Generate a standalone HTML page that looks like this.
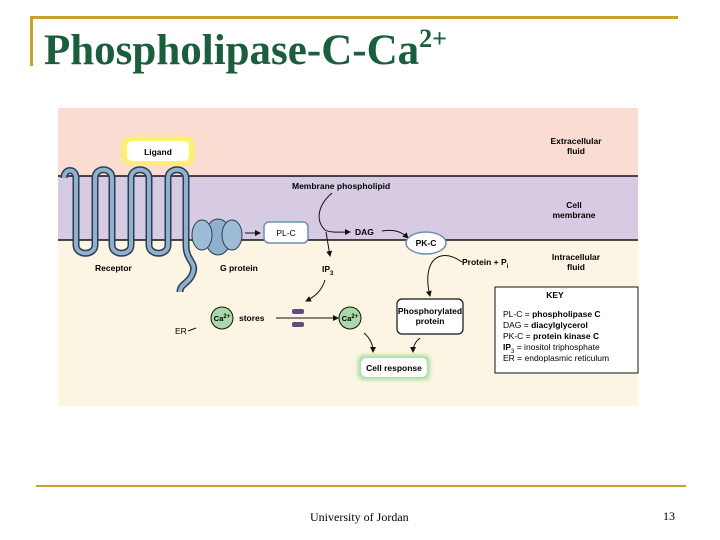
<!DOCTYPE html>
<html><head><meta charset="utf-8"><style>
body{margin:0;width:720px;height:540px;background:#fff;overflow:hidden;position:relative;font-family:"Liberation Serif",serif}
.t{position:absolute;left:44px;top:24px;font-size:43px;font-weight:bold;color:#1b5e3b;white-space:nowrap}
</style></head><body>
<div style="position:absolute;left:30px;top:16px;width:648px;height:3px;background:#c8a22a"></div>
<div style="position:absolute;left:30px;top:16px;width:3px;height:50px;background:#c8a22a"></div>
<div class="t">Phospholipase-C-Ca<sup style="font-size:26px;vertical-align:17px">2+</sup></div>
<svg width="720" height="540" style="position:absolute;left:0;top:0" font-family="Liberation Sans,sans-serif" font-weight="bold" font-size="8.5">
<defs><marker id="a" markerWidth="6" markerHeight="6" refX="5" refY="3" orient="auto"><path d="M0,0L6,3L0,6z" fill="#111"/></marker>
<filter id="g"><feGaussianBlur stdDeviation="2"/></filter></defs>
<rect x="58" y="108" width="580" height="298" fill="#fdf5e4"/>
<rect x="58" y="108" width="580" height="68" fill="#fadcd2"/>
<rect x="58" y="176" width="580" height="64" fill="#d6cbe3"/>
<line x1="58" y1="176" x2="638" y2="176" stroke="#111" stroke-width="1.5"/>
<line x1="58" y1="240" x2="638" y2="240" stroke="#111" stroke-width="1.5"/>
<text x="576" y="144" text-anchor="middle">Extracellular</text><text x="576" y="154" text-anchor="middle">fluid</text>
<text x="574" y="208" text-anchor="middle">Cell</text><text x="574" y="218" text-anchor="middle">membrane</text>
<text x="576" y="260" text-anchor="middle">Intracellular</text><text x="576" y="270" text-anchor="middle">fluid</text>
<rect x="122" y="137" width="72" height="28" rx="8" fill="#fff35a" filter="url(#g)"/>
<rect x="127" y="141" width="62" height="20" rx="5" fill="#fff"/>
<text x="158" y="155" text-anchor="middle">Ligand</text>
<path d="M64,178 C64,168 76,168 76,178 L76,245 C76,256 95,256 95,245 L95,178 C95,167 112,167 112,178 L112,245 C112,256 131,256 131,245 L131,178 C131,167 149,167 149,178 L149,245 C149,256 168,256 168,245 L168,178 C168,167 186,167 186,178 L186,245 C186,262 198,262 192,275 C188,284 180,284 180,292" fill="none" stroke="#2c3e50" stroke-width="7"/>
<path d="M64,178 C64,168 76,168 76,178 L76,245 C76,256 95,256 95,245 L95,178 C95,167 112,167 112,178 L112,245 C112,256 131,256 131,245 L131,178 C131,167 149,167 149,178 L149,245 C149,256 168,256 168,245 L168,178 C168,167 186,167 186,178 L186,245 C186,262 198,262 192,275 C188,284 180,284 180,292" fill="none" stroke="#8fb0cf" stroke-width="4"/>
<ellipse cx="218" cy="237" rx="13" ry="18" fill="#8fb0cf" stroke="#2c3e50"/>
<ellipse cx="202" cy="235" rx="10" ry="15" fill="#9dbcd8" stroke="#2c3e50"/>
<ellipse cx="232" cy="235" rx="10" ry="15" fill="#9dbcd8" stroke="#2c3e50"/>
<text x="95" y="271">Receptor</text><text x="220" y="271">G protein</text>
<line x1="245" y1="233" x2="260" y2="233" stroke="#111" marker-end="url(#a)"/>
<rect x="264" y="222" width="44" height="21" rx="5" fill="#fff" stroke="#6f8fb0" stroke-width="1.5"/>
<text x="286" y="236" text-anchor="middle" font-weight="normal">PL-C</text>
<text x="292" y="189">Membrane phospholipid</text>
<path d="M332,193 C318,205 315,220 325,230 C330,233 340,232 350,232" fill="none" stroke="#111" marker-end="url(#a)"/>
<path d="M326,232 L330,256" fill="none" stroke="#111" marker-end="url(#a)"/>
<text x="355" y="235">DAG</text>
<path d="M382,231 C395,229 402,232 408,238" fill="none" stroke="#111" marker-end="url(#a)"/>
<ellipse cx="426" cy="243" rx="20" ry="11" fill="#fff" stroke="#6f8fb0" stroke-width="1.5"/>
<text x="426" y="246" text-anchor="middle">PK-C</text>
<text x="322" y="272">IP<tspan font-size="6" dy="3">3</tspan></text>
<text x="462" y="265">Protein + P<tspan font-size="6" dy="3">i</tspan></text>
<path d="M462,262 C445,250 430,255 428,275 C427,285 429,292 430,296" fill="none" stroke="#111" marker-end="url(#a)"/>
<path d="M325,280 C322,290 316,296 306,301" fill="none" stroke="#111" marker-end="url(#a)"/>
<rect x="292" y="309" width="12" height="5" rx="2" fill="#5b4f7e"/>
<rect x="292" y="322" width="12" height="5" rx="2" fill="#5b4f7e"/>
<line x1="276" y1="318" x2="338" y2="318" stroke="#111" marker-end="url(#a)"/>
<circle cx="222" cy="318" r="11" fill="#a8d8a8" stroke="#111"/>
<text x="222" y="321" text-anchor="middle" font-size="7.5">Ca<tspan font-size="6" dy="-3">2+</tspan></text>
<text x="239" y="321">stores</text>
<text x="175" y="334" font-weight="normal">ER</text><line x1="188" y1="331" x2="196" y2="328" stroke="#111"/>
<circle cx="350" cy="318" r="11" fill="#a8d8a8" stroke="#111"/>
<text x="350" y="321" text-anchor="middle" font-size="7.5">Ca<tspan font-size="6" dy="-3">2+</tspan></text>
<rect x="397" y="299" width="66" height="35" rx="5" fill="#fff" stroke="#111" stroke-width="1.2"/>
<text x="430" y="314" text-anchor="middle">Phosphorylated</text><text x="430" y="324" text-anchor="middle">protein</text>
<path d="M364,333 C370,338 373,344 373,352" fill="none" stroke="#111" marker-end="url(#a)"/>
<path d="M420,338 C415,342 413,347 413,352" fill="none" stroke="#111" marker-end="url(#a)"/>
<rect x="358" y="355" width="72" height="25" rx="6" fill="#a8dca0" filter="url(#g)"/>
<rect x="361" y="358" width="66" height="19" rx="5" fill="#fff"/>
<text x="394" y="371" text-anchor="middle">Cell response</text>
<rect x="495" y="287" width="143" height="86" fill="#fff" stroke="#111"/>
<text x="555" y="298" text-anchor="middle">KEY</text>
<g font-weight="normal"><text x="503" y="317">PL-C = <tspan font-weight="bold">phospholipase C</tspan></text>
<text x="503" y="328">DAG = <tspan font-weight="bold">diacylglycerol</tspan></text>
<text x="503" y="339">PK-C = <tspan font-weight="bold">protein kinase C</tspan></text>
<text x="503" y="350"><tspan font-weight="bold">IP</tspan><tspan font-size="6" dy="3">3</tspan><tspan dy="-3">     = inositol triphosphate</tspan></text>
<text x="503" y="361">ER      = endoplasmic reticulum</text></g>
</svg>
<div style="position:absolute;left:36px;top:485px;width:650px;height:2px;background:#c8a22a"></div>
<div style="position:absolute;left:310px;top:510px;font-size:12px">University of Jordan</div>
<div style="position:absolute;left:663px;top:509px;font-size:12px">13</div>
</body></html>
